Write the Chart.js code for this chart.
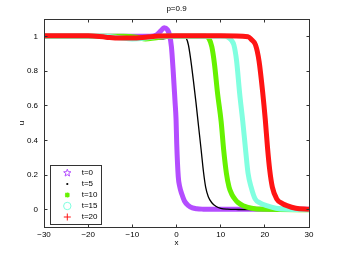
<!DOCTYPE html>
<html>
<head>
<meta charset="utf-8">
<script src="https://cdn.jsdelivr.net/npm/chart.js"></script>
<style>
html,body{margin:0;padding:0;background:#fff;}
#wrap{position:relative;width:341px;height:256px;}
canvas{display:block;}
</style>
</head>
<body>
<div id="wrap"><canvas id="c" width="341" height="256"></canvas></div>
<script>
// ---- data ----
const titleText = 'p=0.9';
const xAxisTitle = 'x';
const yAxisTitle = 'u';
const seriesLabels = ['t=0', 't=5', 't=10', 't=15', 't=20'];

const x_t0 = [-30, -20, -10, -6, -4.5, -3.6, -2.8, -2.1, -1.6, -1.15, -0.75, -0.35, -0.1, 0.05, 0.4, 0.75, 1.2, 1.8, 2.7, 3.6, 4.6, 6, 10, 20, 30];
const u_t0 = [1, 1, 1, 1, 1.008, 1.03, 1.05, 1.04, 1.01, 0.94, 0.8, 0.63, 0.52, 0.38, 0.19, 0.13, 0.09, 0.05, 0.023, 0.01, 0.005, 0.003, 0.002, 0.002, 0.002];

const x_t5 = [-30, -10, -7, -5, -3.5, -2, 0, 1.5, 2.2, 2.7, 3.2, 3.8, 4.4, 5.0, 5.6, 6.1, 6.6, 7.2, 8.0, 9.0, 10.0, 11.5, 14, 20, 30];
const u_t5 = [1, 1, 0.998, 0.99, 0.985, 0.99, 1, 1, 0.99, 0.95, 0.87, 0.75, 0.62, 0.48, 0.34, 0.22, 0.13, 0.075, 0.04, 0.018, 0.008, 0.003, 0.001, 0, 0];

const x_t10 = [-30, -12, -9, -7, -5, -2, 2, 6.5, 7.4, 8.0, 8.6, 9.3, 10.1, 10.7, 11.3, 11.9, 12.5, 13.2, 14.0, 15.1, 17, 19.6, 30];
const u_t10 = [1, 1, 0.995, 0.985, 0.99, 1, 1, 1, 0.985, 0.94, 0.84, 0.67, 0.51, 0.34, 0.21, 0.13, 0.09, 0.062, 0.04, 0.023, 0.008, 0.002, 0];

const x_t15 = [-30, -16, -12.5, -10, -7, -4, 0, 11, 11.9, 12.5, 13.0, 13.6, 14.3, 15.0, 15.7, 16.2, 16.9, 17.8, 19, 20.4, 22.5, 24.9, 30];
const u_t15 = [1, 1, 0.99, 0.985, 0.99, 1, 1, 1, 0.99, 0.975, 0.95, 0.86, 0.67, 0.51, 0.33, 0.21, 0.13, 0.062, 0.038, 0.023, 0.008, 0.002, 0];

const x_t20 = [-30, -20, -16, -13, -10, -7, -4, 0, 10, 16.2, 17.0, 17.9, 18.7, 19.5, 20.1, 20.6, 21.1, 21.7, 22.7, 24, 25, 27, 30];
const u_t20 = [1.003, 1.003, 0.995, 0.99, 0.99, 0.995, 1.002, 1.003, 1.003, 0.998, 0.98, 0.95, 0.856, 0.68, 0.52, 0.36, 0.23, 0.13, 0.062, 0.035, 0.023, 0.008, 0.002];

const xTicks = [-30, -20, -10, 0, 10, 20, 30];
const xTickLabels = ['\u221230', '\u221220', '\u221210', '0', '10', '20', '30'];
const yTicks = [0, 0.2, 0.4, 0.6, 0.8, 1];
const yTickLabels = ['0', '0.2', '0.4', '0.6', '0.8', '1'];

// ---- styling ----
const seriesColors = ['#b44dff', '#000000', '#66f200', '#80ffe0', '#ff1414'];
const seriesWidths = [5, 1.3, 5, 5, 5];
const FONT = "'Liberation Sans', Arial, Helvetica, sans-serif";

const xsAll = [x_t0, x_t5, x_t10, x_t15, x_t20];
const usAll = [u_t0, u_t5, u_t10, u_t15, u_t20];

const datasets = seriesLabels.map((lab, k) => ({
  label: lab,
  data: xsAll[k].map((v, i) => ({x: v, y: usAll[k][i]})),
  showLine: true,
  borderColor: seriesColors[k],
  backgroundColor: seriesColors[k],
  borderWidth: seriesWidths[k],
  borderJoinStyle: 'round',
  borderCapStyle: 'butt',
  pointRadius: 0,
  pointHoverRadius: 0,
  cubicInterpolationMode: 'monotone',
  fill: false,
  order: seriesLabels.length - 1 - k,
  clip: {left: 0, top: 6, right: 2, bottom: 6}
}));

function drawMarker(ctx, k, cx, cy) {
  ctx.save();
  ctx.strokeStyle = seriesColors[k];
  ctx.fillStyle = seriesColors[k];
  ctx.lineWidth = 1;
  ctx.beginPath();
  if (k === 0) {
    const ro = 3.8, ri = 1.6;
    for (let i = 0; i < 10; i++) {
      const r = i % 2 === 0 ? ro : ri;
      const ang = -Math.PI / 2 + i * Math.PI / 5;
      const px = cx + r * Math.cos(ang), py = cy + r * Math.sin(ang);
      if (i === 0) ctx.moveTo(px, py); else ctx.lineTo(px, py);
    }
    ctx.closePath();
    ctx.stroke();
  } else if (k === 1) {
    ctx.arc(cx, cy, 1.1, 0, Math.PI * 2);
    ctx.fill();
  } else if (k === 2) {
    const r = 2.4;
    ctx.lineWidth = 1.3;
    ctx.moveTo(cx - r, cy); ctx.lineTo(cx + r, cy);
    ctx.moveTo(cx, cy - r); ctx.lineTo(cx, cy + r);
    ctx.moveTo(cx - r * 0.8, cy - r * 0.8); ctx.lineTo(cx + r * 0.8, cy + r * 0.8);
    ctx.moveTo(cx - r * 0.8, cy + r * 0.8); ctx.lineTo(cx + r * 0.8, cy - r * 0.8);
    ctx.stroke();
  } else if (k === 3) {
    ctx.arc(cx, cy, 3.7, 0, Math.PI * 2);
    ctx.stroke();
  } else {
    const r = 3.5;
    ctx.moveTo(cx - r, cy); ctx.lineTo(cx + r, cy);
    ctx.moveTo(cx, cy - r); ctx.lineTo(cx, cy + r);
    ctx.stroke();
  }
  ctx.restore();
}

const framePlugin = {
  id: 'matlabFrame',
  afterDatasetsDraw(chart) {
    const {ctx, chartArea: a} = chart;
    const xs = chart.scales.x, ys = chart.scales.y;
    ctx.save();
    ctx.strokeStyle = '#333333';
    ctx.lineWidth = 1;
    const L = Math.floor(a.left) + 0.5, R = Math.floor(a.right) + 0.5;
    const T = Math.floor(a.top) + 0.5, B = Math.floor(a.bottom) + 0.5;
    ctx.strokeRect(L, T, R - L, B - T);
    ctx.beginPath();
    xTicks.forEach(v => {
      const p = Math.floor(xs.getPixelForValue(v)) + 0.5;
      ctx.moveTo(p, B); ctx.lineTo(p, B - 3);
      ctx.moveTo(p, T); ctx.lineTo(p, T + 3);
    });
    yTicks.forEach(v => {
      const p = Math.floor(ys.getPixelForValue(v)) + 0.5;
      ctx.moveTo(L, p); ctx.lineTo(L + 3, p);
      ctx.moveTo(R, p); ctx.lineTo(R - 3, p);
    });
    ctx.stroke();

    // legend box (bottom-left, inside plot)
    const lx = Math.floor(a.left) + 6, ly = Math.floor(a.bottom) - 62;
    const lw = 51, lh = 59;
    ctx.fillStyle = '#ffffff';
    ctx.fillRect(lx, ly, lw, lh);
    ctx.strokeStyle = '#333333';
    ctx.strokeRect(lx + 0.5, ly + 0.5, lw, lh);
    ctx.font = '8px ' + FONT;
    ctx.textBaseline = 'middle';
    ctx.textAlign = 'left';
    seriesLabels.forEach((lab, k) => {
      const cy = ly + 8 + 11 * k;
      drawMarker(ctx, k, lx + 17.3, cy);
      ctx.fillStyle = '#000000';
      ctx.fillText(lab, lx + 31.7, cy);
    });
    ctx.restore();
  }
};

new Chart(document.getElementById('c'), {
  type: 'scatter',
  data: {datasets},
  options: {
    responsive: false,
    devicePixelRatio: 1,
    animation: false,
    events: [],
    layout: {padding: {left: 0, right: 32, top: 0, bottom: 0}},
    plugins: {
      legend: {display: false},
      tooltip: {enabled: false},
      title: {
        display: true,
        text: titleText,
        fullSize: false,
        color: '#000000',
        font: {family: FONT, size: 8, weight: 'normal'},
        padding: {top: 4, bottom: 5.4}
      }
    },
    scales: {
      x: {
        type: 'linear',
        min: -30,
        max: 30,
        afterBuildTicks: s => { s.ticks = xTicks.map(v => ({value: v})); },
        afterFit: s => { s.height = 29; },
        grid: {display: false, drawTicks: false},
        border: {display: false},
        ticks: {
          autoSkip: false,
          maxRotation: 0,
          padding: 3,
          color: '#000000',
          font: {family: FONT, size: 8},
          callback: (v, i) => xTickLabels[i]
        },
        title: {
          display: true,
          text: xAxisTitle,
          color: '#000000',
          font: {family: FONT, size: 8},
          padding: {top: 0, bottom: 8}
        }
      },
      y: {
        type: 'linear',
        min: -0.1,
        max: 1.1,
        afterBuildTicks: s => { s.ticks = yTicks.map(v => ({value: v})); },
        afterFit: s => { s.width = 44; },
        grid: {display: false, drawTicks: false},
        border: {display: false},
        ticks: {
          autoSkip: false,
          padding: 6,
          color: '#000000',
          font: {family: FONT, size: 8},
          callback: (v, i) => yTickLabels[i]
        },
        title: {
          display: true,
          text: yAxisTitle,
          color: '#000000',
          font: {family: FONT, size: 8},
          padding: {top: 17, bottom: 0}
        }
      }
    }
  },
  plugins: [framePlugin]
});
</script>
</body>
</html>
